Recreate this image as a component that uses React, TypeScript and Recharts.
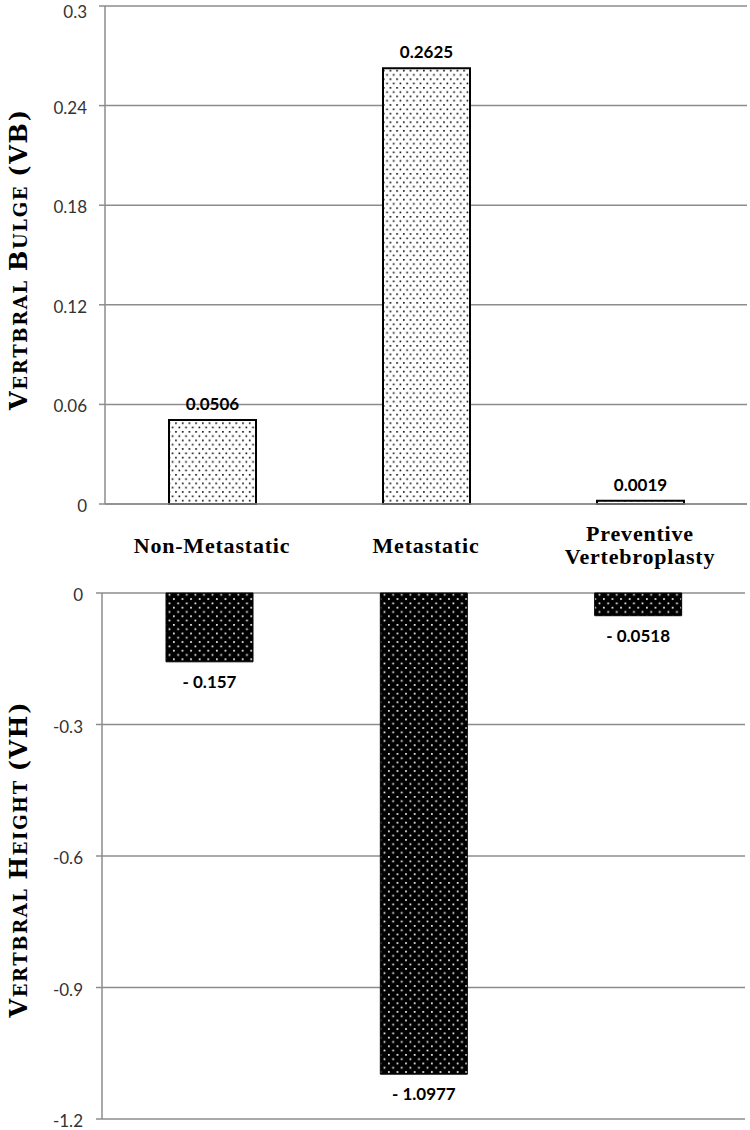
import React from 'react';
import { BarChart, Bar, XAxis, YAxis, CartesianGrid, LabelList } from 'recharts';

const categories = ['Non-Metastatic', 'Metastatic', 'Preventive Vertebroplasty'];
const categoryLines = [['Non-Metastatic'], ['Metastatic'], ['Preventive', 'Vertebroplasty']];
const bulgeValues = [0.0506, 0.2625, 0.0019];
const heightValues = [-0.157, -1.0977, -0.0518];
const bulgeTicks = [0, 0.06, 0.12, 0.18, 0.24, 0.3];
const heightTicks = [0, -0.3, -0.6, -0.9, -1.2];
const bulgeTitle = 'Vertbral Bulge (VB)';
const heightTitle = 'Vertbral Height (VH)';

const bulgeData = categories.map((name, i) => ({ name, value: bulgeValues[i] }));
const heightData = categories.map((name, i) => ({ name, value: heightValues[i] }));

const GRID = '#8c8c8c';
const SANS = 'Lato, "Open Sans", sans-serif';
const SERIF = '"Liberation Serif", "DejaVu Serif", serif';
const TITLE_SERIF = '"DejaVu Serif", "Liberation Serif", serif';

function smallCapsParts(s: string) {
  const parts: { text: string; big: boolean }[] = [];
  for (const ch of s) {
    const isLower = ch >= 'a' && ch <= 'z';
    const big = !isLower && ch !== ' ';
    const text = isLower ? ch.toUpperCase() : ch;
    const last = parts[parts.length - 1];
    if (last && last.big === big) last.text += text;
    else parts.push({ text, big });
  }
  return parts;
}

const makeTitle = (title: string, cy: number, len: number) => (props: any) => {
  const cx = 27;
  const parts = smallCapsParts(title);
  return (
    <text
      x={cx}
      y={cy}
      transform={`rotate(-90, ${cx}, ${cy})`}
      textAnchor="middle"
      fontFamily={TITLE_SERIF}
      fontWeight="bold"
      fill="#000"
      textLength={len}
      lengthAdjust="spacing"
    >
      {parts.map((p, i) => (
        <tspan key={i} fontSize={p.big ? 24 : 18}>
          {p.text}
        </tspan>
      ))}
    </text>
  );
};

const CategoryTick = (props: any) => {
  const { x, y, payload } = props;
  const idx = categories.indexOf(payload.value);
  const lines = categoryLines[idx] || [payload.value];
  const start = lines.length === 1 ? 49 : 37;
  return (
    <text textAnchor="middle" fontFamily={SERIF} fontWeight="bold" fontSize={22} letterSpacing={0.8} fill="#000">
      {lines.map((l, i) => (
        <tspan key={i} x={x} y={y + start + i * 23}>
          {l}
        </tspan>
      ))}
    </text>
  );
};

const YTick = (props: any) => {
  const { x, y, payload } = props;
  return (
    <text
      x={x}
      y={Math.max(y + 1.5, 11)}
      textAnchor="end"
      dominantBaseline="central"
      fontFamily={SANS}
      fontSize={17}
      fill="#333"
    >
      {String(payload.value)}
    </text>
  );
};

const TopLabel = (props: any) => {
  const { x, y, width, height, value } = props;
  const top = Math.min(y, y + height);
  return (
    <text x={x + width / 2} y={top - 10} textAnchor="middle" fontFamily={SANS} fontWeight="bold" fontSize={17} fill="#000">
      {value}
    </text>
  );
};

const BottomLabel = (props: any) => {
  const { x, y, width, height, value } = props;
  const bottom = Math.max(y, y + height);
  return (
    <text x={x + width / 2} y={bottom + 26} textAnchor="middle" fontFamily={SANS} fontWeight="bold" fontSize={17} fill="#000">
      {'- ' + Math.abs(value)}
    </text>
  );
};

export default function App() {
  return (
    <div style={{ position: 'absolute', left: 0, top: 0, width: 750, height: 1130, background: '#fff' }}>
      <BarChart width={750} height={580} data={bulgeData} margin={{ top: 6, right: 3, left: 0, bottom: 20 }}>
        <defs>
          <pattern id="dotsLight" patternUnits="userSpaceOnUse" width={6.7} height={8.6}>
            <rect width={6.7} height={8.6} fill="#fff" />
            <rect x={1} y={1} width={1.6} height={1.6} fill="#000" />
            <rect x={4.35} y={5.3} width={1.6} height={1.6} fill="#000" />
          </pattern>
        </defs>
        <CartesianGrid vertical={false} stroke={GRID} strokeWidth={1.5} />
        <XAxis
          dataKey="name"
          axisLine={{ stroke: GRID, strokeWidth: 1.5 }}
          tickLine={false}
          tickSize={0}
          tickMargin={0}
          height={56}
          interval={0}
          tick={<CategoryTick />}
        />
        <YAxis
          width={105}
          domain={[0, 0.3]}
          ticks={bulgeTicks}
          interval={0}
          axisLine={{ stroke: GRID, strokeWidth: 1.5 }}
          tickLine={{ stroke: GRID, strokeWidth: 1.5 }}
          tickSize={6}
          tickMargin={12}
          tick={<YTick />}
          label={{ content: makeTitle(bulgeTitle, 260, 300) }}
        />
        <Bar dataKey="value" barSize={87} fill="url(#dotsLight)" stroke="#000" strokeWidth={2} isAnimationActive={false}>
          <LabelList dataKey="value" content={<TopLabel />} />
        </Bar>
      </BarChart>
      <BarChart width={750} height={550} data={heightData} margin={{ top: 13, right: 5, left: 0, bottom: 11 }}>
        <defs>
          <pattern id="dotsDark" patternUnits="userSpaceOnUse" width={8.6} height={8.6}>
            <rect width={8.6} height={8.6} fill="#000" />
            <rect x={1} y={1} width={1.7} height={1.7} fill="#fff" />
            <rect x={5.3} y={5.3} width={1.7} height={1.7} fill="#fff" />
          </pattern>
        </defs>
        <CartesianGrid vertical={false} stroke={GRID} strokeWidth={1.5} />
        <XAxis dataKey="name" hide />
        <YAxis
          width={102}
          domain={[-1.2, 0]}
          ticks={heightTicks}
          interval={0}
          axisLine={{ stroke: GRID, strokeWidth: 1.5 }}
          tickLine={{ stroke: GRID, strokeWidth: 1.5 }}
          tickSize={6}
          tickMargin={13}
          tick={<YTick />}
          label={{ content: makeTitle(heightTitle, 280, 315) }}
        />
        <Bar dataKey="value" barSize={87} fill="url(#dotsDark)" stroke="#000" strokeWidth={1} isAnimationActive={false}>
          <LabelList dataKey="value" content={<BottomLabel />} />
        </Bar>
      </BarChart>
    </div>
  );
}
